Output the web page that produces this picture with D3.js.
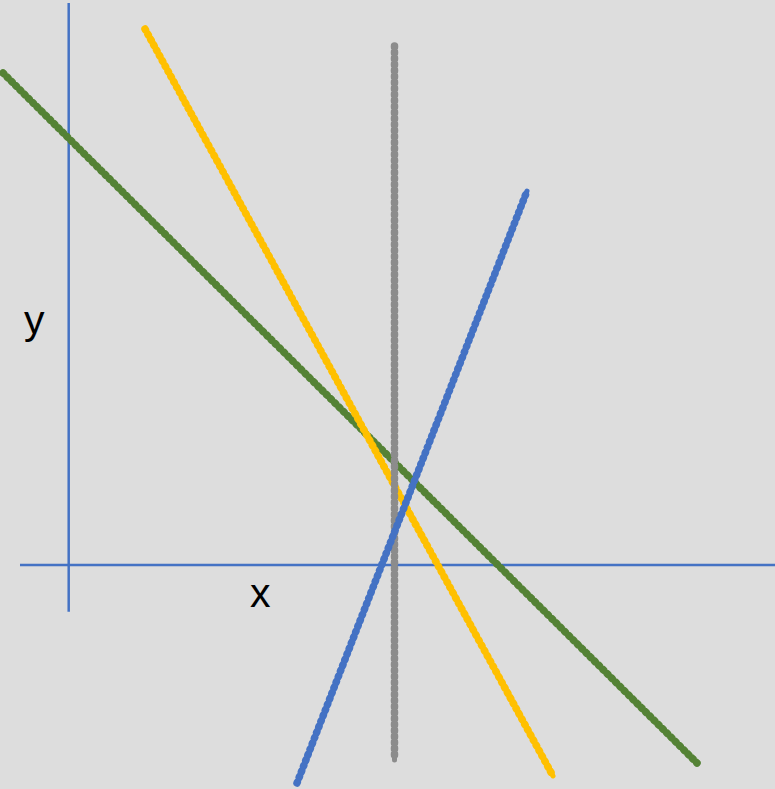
<!DOCTYPE html>
<html>
<head>
<meta charset="utf-8">
<script src="https://cdn.jsdelivr.net/npm/d3@7"></script>
<style>
  html, body { margin: 0; padding: 0; background: #dddddd; }
  svg { display: block; }
  .label { font-family: "Liberation Sans", Arial, sans-serif; font-size: 41px; fill: #000; }
</style>
</head>
<body>
<div id="chart"></div>
<script>
// line names and colours
var lineNames = ["green", "yellow", "gray", "blue"];
var lineColors = ["#548235", "#ffc000", "#8c8c8c", "#4472c4"];
// endpoints in chart units (origin = axis crossing)
var startX = [-6.57, 7.63, 32.58, 22.83];
var startY = [49.2, 53.6, 51.9, -21.8];
var endX = [62.83, 48.43, 32.58, 45.83];
var endY = [-19.8, -21.1, -19.5, 37.4];
// axis extents
var xAxisExtent = [-4.87, 70.63];
var yAxisExtent = [-4.67, 56.2];
var axisLabels = ["x", "y"];

var width = 775, height = 789;

var svg = d3.select("#chart").append("svg")
    .attr("width", width)
    .attr("height", height);

svg.append("rect")
    .attr("width", width)
    .attr("height", height)
    .attr("fill", "#dddddd");

var x = d3.scaleLinear().domain([0, 70]).range([68.7, 768.7]);
var y = d3.scaleLinear().domain([0, 56]).range([565, 5]);

/***** Axes *****/
svg.append("line")
    .attr("x1", x(xAxisExtent[0])).attr("x2", x(xAxisExtent[1]))
    .attr("y1", y(0)).attr("y2", y(0))
    .attr("stroke", "#4472c4")
    .attr("stroke-width", 2.5);

svg.append("line")
    .attr("x1", x(0)).attr("x2", x(0))
    .attr("y1", y(yAxisExtent[0])).attr("y2", y(yAxisExtent[1]))
    .attr("stroke", "#4472c4")
    .attr("stroke-width", 2.5);

svg.append("text")
    .attr("class", "label")
    .attr("x", 250)
    .attr("y", 607)
    .text(axisLabels[0]);

svg.append("text")
    .attr("class", "label")
    .attr("x", 24)
    .attr("y", 334)
    .text(axisLabels[1]);

/***** Lines *****/
var lines = lineNames.map(function(d, i) {
    return {name: d, color: lineColors[i], x1: startX[i], y1: startY[i], x2: endX[i], y2: endY[i]};
});

var groups = svg.selectAll("g.series")
    .data(lines)
    .enter().append("g")
    .attr("class", "series");

// solid core
groups.append("line")
    .attr("x1", function(d) { return x(d.x1); })
    .attr("y1", function(d) { return y(d.y1); })
    .attr("x2", function(d) { return x(d.x2); })
    .attr("y2", function(d) { return y(d.y2); })
    .attr("stroke", function(d) { return d.color; })
    .attr("stroke-width", 5)
    .attr("stroke-linecap", "round");

// bumpy beads on top of the core
groups.append("line")
    .attr("x1", function(d) { return x(d.x1); })
    .attr("y1", function(d) { return y(d.y1); })
    .attr("x2", function(d) { return x(d.x2); })
    .attr("y2", function(d) { return y(d.y2); })
    .attr("stroke", function(d) { return d.color; })
    .attr("stroke-width", 7.5)
    .attr("stroke-linecap", "round")
    .attr("stroke-dasharray", "1 5");
</script>
</body>
</html>
